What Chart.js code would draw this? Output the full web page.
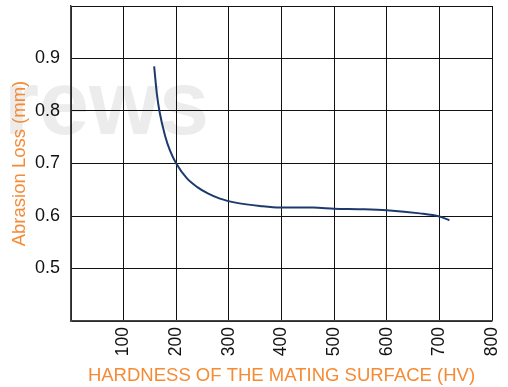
<!DOCTYPE html>
<html lang="en">

<head>
    <meta charset="UTF-8">
    <title>Abrasion Loss vs Hardness</title>
    <script src="https://cdn.jsdelivr.net/npm/chart.js"></script>
    <style>
        body { margin: 0; background: #fff; }
        #box { width: 508px; height: 387px; }
    </style>
</head>

<body>
    <div id="box">
        <canvas id="chartDesgaste" width="508" height="387"></canvas>
    </div>
</body>

<script>
    // valores
    var dureza = [158, 163, 168, 179, 188, 200, 220, 240, 260, 283, 315, 359, 397, 460, 500, 550, 600, 663, 700, 719]
    var perda = [0.885, 0.834, 0.800, 0.752, 0.725, 0.700, 0.672, 0.655, 0.643, 0.633, 0.625, 0.619, 0.616, 0.616, 0.614, 0.613, 0.611, 0.605, 0.599, 0.592]
    var ticksX = [100, 200, 300, 400, 500, 600, 700, 800]
    var ticksY = [0.5, 0.6, 0.7, 0.8, 0.9]

    var laranja = '#f58b34'
    var fonte = "'Liberation Sans', Arial, sans-serif"

    var pontos = dureza.map(function (d, i) { return { x: d, y: perda[i] } })

    // marca d'agua clara atras da grade
    var marcaDagua = {
        id: 'marcaDagua',
        beforeDraw: function (chart) {
            var c = chart.ctx
            c.save()
            c.fillStyle = '#ececec'
            c.font = "bold 90px " + fonte
            c.textBaseline = 'alphabetic'
            c.fillText('rews', 4, 134)
            c.restore()
        }
    }

    var grafico = new Chart(document.getElementById('chartDesgaste').getContext('2d'), {
        type: 'line',
        data: {
            datasets: [{
                label: 'Abrasion Loss',
                data: pontos,
                fill: false,
                borderColor: '#1c3a6c',
                borderWidth: 2,
                pointRadius: 0,
                cubicInterpolationMode: 'monotone'
            }]
        },
        options: {
            responsive: false,
            animation: false,
            layout: { padding: { top: 6, right: 16, left: 0, bottom: 0 } },
            plugins: {
                legend: { display: false },
                tooltip: { enabled: false }
            },
            scales: {
                x: {
                    type: 'linear',
                    min: 0,
                    max: 800,
                    afterFit: function (s) {
                        s.height = 66
                        s.paddingLeft = 0
                        s.paddingRight = 0
                    },
                    afterBuildTicks: function (s) {
                        s.ticks = [0].concat(ticksX).map(function (v) { return { value: v } })
                    },
                    grid: { color: '#111', lineWidth: 1, drawTicks: false },
                    border: { color: '#444', width: 1.5 },
                    ticks: {
                        autoSkip: false,
                        minRotation: 90,
                        maxRotation: 90,
                        padding: 6,
                        color: '#111',
                        font: { family: fonte, size: 17.5 },
                        callback: function (v) { return ticksX.indexOf(v) >= 0 ? String(v) : '' }
                    },
                    title: {
                        display: true,
                        text: 'HARDNESS OF THE MATING SURFACE (HV)',
                        color: laranja,
                        font: { family: fonte, size: 18.5 },
                        padding: { top: 0, bottom: 0 }
                    }
                },
                y: {
                    min: 0.4,
                    max: 1.0,
                    afterFit: function (s) {
                        s.width = 71
                        s.paddingTop = 0
                        s.paddingBottom = 0
                    },
                    afterBuildTicks: function (s) {
                        s.ticks = [0.4].concat(ticksY, [1.0]).map(function (v) { return { value: v } })
                    },
                    grid: { color: '#111', lineWidth: 1, drawTicks: false },
                    border: { color: '#444', width: 1.5 },
                    ticks: {
                        padding: 11,
                        color: '#111',
                        font: { family: fonte, size: 18 },
                        callback: function (v) {
                            var r = Math.round(v * 10) / 10
                            return ticksY.indexOf(r) >= 0 ? r.toFixed(1) : ''
                        }
                    },
                    title: {
                        display: true,
                        text: 'Abrasion Loss (mm)',
                        color: laranja,
                        font: { family: fonte, size: 18.5 },
                        padding: { top: 9, bottom: 0 }
                    }
                }
            }
        },
        plugins: [marcaDagua]
    })
</script>

</html>
